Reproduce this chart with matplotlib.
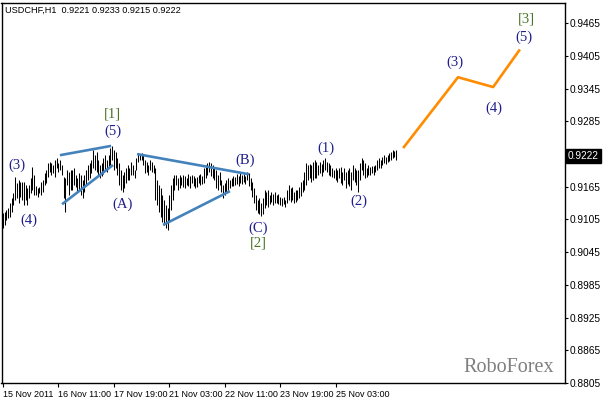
import matplotlib
matplotlib.use("Agg")
import matplotlib.pyplot as plt
import matplotlib.transforms as mtransforms
import numpy as np

# ---------------- data ----------------
symbol_title = "USDCHF,H1  0.9221 0.9233 0.9215 0.9222"
last_price = 0.9222

highs = [
    0.9117, 0.9119, 0.9122, 0.9126, 0.9135, 0.9144, 0.9153, 0.9183, 0.9172, 0.9177,
    0.9174, 0.9174, 0.9174, 0.9168, 0.9163, 0.9168, 0.9181, 0.9201, 0.9186, 0.9166,
    0.9163, 0.9164, 0.9174, 0.9177, 0.9190, 0.9196, 0.9208, 0.9210, 0.9208, 0.9205,
    0.9214, 0.9218, 0.9208, 0.9214, 0.9205, 0.9183, 0.9181, 0.9196, 0.9192, 0.9196,
    0.9196, 0.9199, 0.9186, 0.9181, 0.9190, 0.9186, 0.9177, 0.9186, 0.9196, 0.9205,
    0.9208, 0.9214, 0.9232, 0.9223, 0.9229, 0.9214, 0.9205, 0.9208, 0.9218, 0.9223,
    0.9214, 0.9223, 0.9236, 0.9240, 0.9232, 0.9229, 0.9218, 0.9208, 0.9196, 0.9186,
    0.9192, 0.9199, 0.9205, 0.9199, 0.9210, 0.9205, 0.9196, 0.9218, 0.9227, 0.9225,
    0.9227, 0.9223, 0.9214, 0.9210, 0.9205, 0.9214, 0.9210, 0.9205, 0.9199, 0.9177,
    0.9168, 0.9163, 0.9150, 0.9141, 0.9131, 0.9126, 0.9150, 0.9168, 0.9181, 0.9186,
    0.9186, 0.9181, 0.9186, 0.9183, 0.9186, 0.9185, 0.9181, 0.9188, 0.9185, 0.9186,
    0.9185, 0.9181, 0.9183, 0.9186, 0.9188, 0.9185, 0.9199, 0.9205, 0.9208, 0.9210,
    0.9208, 0.9205, 0.9199, 0.9196, 0.9186, 0.9192, 0.9177, 0.9168, 0.9172, 0.9177,
    0.9181, 0.9177, 0.9181, 0.9185, 0.9183, 0.9188, 0.9185, 0.9190, 0.9186, 0.9188,
    0.9185, 0.9192, 0.9190, 0.9181, 0.9174, 0.9163, 0.9150, 0.9141, 0.9144, 0.9135,
    0.9144, 0.9159, 0.9155, 0.9159, 0.9150, 0.9155, 0.9152, 0.9155, 0.9150, 0.9152,
    0.9146, 0.9144, 0.9146, 0.9141, 0.9159, 0.9168, 0.9163, 0.9164, 0.9155, 0.9159,
    0.9159, 0.9164, 0.9174, 0.9177, 0.9192, 0.9208, 0.9205, 0.9207, 0.9205, 0.9210,
    0.9214, 0.9210, 0.9205, 0.9210, 0.9207, 0.9214, 0.9218, 0.9210, 0.9208, 0.9205,
    0.9199, 0.9196, 0.9199, 0.9196, 0.9199, 0.9201, 0.9192, 0.9199, 0.9192, 0.9196,
    0.9199, 0.9192, 0.9205, 0.9199, 0.9196, 0.9196, 0.9208, 0.9218, 0.9214, 0.9208,
    0.9199, 0.9205, 0.9201, 0.9203, 0.9203, 0.9205, 0.9214, 0.9218, 0.9214, 0.9219,
    0.9223, 0.9219, 0.9223, 0.9227, 0.9229, 0.9232, 0.9231, 0.9233,
]
lows = [
    0.9089, 0.9095, 0.9104, 0.9108, 0.9109, 0.9119, 0.9131, 0.9141, 0.9144, 0.9135,
    0.9146, 0.9141, 0.9131, 0.9141, 0.9131, 0.9144, 0.9153, 0.9159, 0.9150, 0.9150,
    0.9146, 0.9153, 0.9150, 0.9155, 0.9168, 0.9172, 0.9183, 0.9192, 0.9186, 0.9190,
    0.9183, 0.9199, 0.9192, 0.9196, 0.9186, 0.9144, 0.9119, 0.9168, 0.9150, 0.9159,
    0.9159, 0.9168, 0.9164, 0.9155, 0.9159, 0.9150, 0.9144, 0.9155, 0.9168, 0.9177,
    0.9181, 0.9190, 0.9199, 0.9196, 0.9192, 0.9186, 0.9181, 0.9185, 0.9188, 0.9196,
    0.9192, 0.9199, 0.9205, 0.9214, 0.9196, 0.9199, 0.9186, 0.9168, 0.9159, 0.9155,
    0.9163, 0.9172, 0.9177, 0.9177, 0.9186, 0.9186, 0.9181, 0.9196, 0.9210, 0.9214,
    0.9214, 0.9205, 0.9190, 0.9192, 0.9186, 0.9196, 0.9192, 0.9190, 0.9141, 0.9131,
    0.9119, 0.9109, 0.9100, 0.9095, 0.9089, 0.9086, 0.9100, 0.9122, 0.9141, 0.9159,
    0.9168, 0.9159, 0.9163, 0.9168, 0.9164, 0.9163, 0.9168, 0.9166, 0.9163, 0.9172,
    0.9166, 0.9163, 0.9164, 0.9172, 0.9168, 0.9170, 0.9172, 0.9181, 0.9186, 0.9192,
    0.9185, 0.9181, 0.9177, 0.9163, 0.9159, 0.9168, 0.9155, 0.9144, 0.9150, 0.9155,
    0.9159, 0.9163, 0.9166, 0.9166, 0.9168, 0.9170, 0.9166, 0.9172, 0.9170, 0.9174,
    0.9170, 0.9177, 0.9166, 0.9159, 0.9146, 0.9135, 0.9122, 0.9117, 0.9115, 0.9111,
    0.9115, 0.9126, 0.9131, 0.9128, 0.9133, 0.9137, 0.9131, 0.9135, 0.9135, 0.9133,
    0.9131, 0.9130, 0.9133, 0.9128, 0.9135, 0.9141, 0.9137, 0.9141, 0.9135, 0.9137,
    0.9141, 0.9144, 0.9148, 0.9155, 0.9159, 0.9168, 0.9177, 0.9181, 0.9174, 0.9177,
    0.9181, 0.9181, 0.9186, 0.9190, 0.9185, 0.9192, 0.9196, 0.9192, 0.9186, 0.9185,
    0.9183, 0.9181, 0.9177, 0.9174, 0.9181, 0.9172, 0.9168, 0.9177, 0.9163, 0.9170,
    0.9166, 0.9159, 0.9177, 0.9174, 0.9168, 0.9155, 0.9177, 0.9196, 0.9186, 0.9181,
    0.9183, 0.9186, 0.9186, 0.9190, 0.9186, 0.9192, 0.9196, 0.9199, 0.9199, 0.9205,
    0.9208, 0.9207, 0.9210, 0.9212, 0.9214, 0.9218, 0.9219, 0.9215,
]

# forecast path (bar index, price)
proj_x = [231.5, 262.7, 283.0, 298.0]
proj_y = [0.9238, 0.9366, 0.9348, 0.9415]

# triangle trend lines: (x0, y0, x1, y1) in bar index / price
tri_lines = [
    (32.9, 0.9223, 62.4, 0.9240),
    (34.1, 0.9133, 63.5, 0.9205),
    (77.4, 0.9225, 142.0, 0.9188),
    (92.4, 0.9095, 131.0, 0.9157),
]

# wave labels
wave_text = ["(3)", "(4)", "(5)", "(A)", "(B)", "(C)", "(1)", "(2)", "(3)", "(4)", "(5)"]
wave_x = [8.1, 15.0, 63.5, 69.3, 139.7, 147.2, 186.5, 205.5, 261.0, 283.5, 300.8]
wave_y = [0.9205, 0.9104, 0.9267, 0.9133, 0.9214, 0.9089, 0.9236, 0.9139, 0.9394, 0.9309, 0.9439]

major_text = ["[1]", "[2]", "[3]"]
major_x = [63.0, 147.2, 302.0]
major_y = [0.9298, 0.9062, 0.9472]

ytick_vals = [0.8805, 0.8865, 0.8925, 0.8985, 0.9045, 0.9105, 0.9165,
              0.9285, 0.9345, 0.9405, 0.9465]
xtick_pos = [0, 32, 64, 96, 128, 160, 192]
xtick_labels = ["15 Nov 2011", "16 Nov 11:00", "17 Nov 19:00", "21 Nov 03:00",
                "22 Nov 11:00", "23 Nov 19:00", "25 Nov 03:00"]

# ---------------- figure ----------------
W, H = 603, 399
fig = plt.figure(figsize=(W / 100, H / 100), dpi=100)
fig.patch.set_facecolor("white")
left, right, top, bottom = 1.5, 564.5, 3.0, 383.0
ax = fig.add_axes([left / W, (H - bottom) / H, (right - left) / W, (bottom - top) / H])

px_per_bar = 1.732
x0_pix = 3.0
ax.set_xlim((left - x0_pix) / px_per_bar, (right - x0_pix) / px_per_bar)
ppp = 0.066 / 360.0  # price per pixel
ax.set_ylim(0.9465 - (bottom - 23.3) * ppp, 0.9465 + (23.3 - top) * ppp)

idx = np.arange(len(highs))
ax.vlines(idx, lows, highs, color="black", lw=0.75)

for (xa, ya, xb, yb) in tri_lines:
    ax.plot([xa, xb], [ya, yb], color="#4482bc", lw=1.9, solid_capstyle="butt")

ax.plot(proj_x, proj_y, color="#ff8c00", lw=1.9)

lab_font = dict(family=["Liberation Serif", "DejaVu Serif"], fontsize=10.5)
for t, x, y in zip(wave_text, wave_x, wave_y):
    ax.text(x, y, t, color="#1e1e8c", ha="center", va="center", **lab_font)
for t, x, y in zip(major_text, major_x, major_y):
    ax.text(x, y, t, color="#4a7524", ha="center", va="center", **lab_font)

# title
ax.text(0.006, 0.982, symbol_title, transform=ax.transAxes,
        fontsize=6.6, family=["Liberation Sans", "DejaVu Sans"], color="black",
        ha="left", va="center")

# watermark
ax.text(0.901, (bottom - 368) / (bottom - top), "RoboForex", transform=ax.transAxes,
        fontsize=14.5, family=["Liberation Serif", "DejaVu Serif"], color="#7f7f7f",
        ha="center", va="center")

# axes styling
for s in ax.spines.values():
    s.set_color("black")
    s.set_linewidth(1.0)
ax.yaxis.tick_right()
ax.set_yticks(ytick_vals)
ax.set_yticklabels([f"{v:.4f}" for v in ytick_vals])
ax.tick_params(axis="y", direction="out", length=2.5, width=0.8, pad=1.5,
               labelsize=7.3, colors="black")
ax.set_xticks(xtick_pos)
ax.set_xticklabels(xtick_labels)
ax.tick_params(axis="x", direction="out", length=3, width=0.8, pad=2,
               labelsize=6.5, colors="black")
for lbl in ax.get_xticklabels():
    lbl.set_horizontalalignment("left")
    lbl.set_family(["Liberation Sans", "DejaVu Sans"])
for lbl in ax.get_yticklabels():
    lbl.set_family(["Liberation Sans", "DejaVu Sans"])

# current price box
trans = mtransforms.blended_transform_factory(ax.transAxes, ax.transData)
ax.text(1.0 + 3.5 / (right - left), last_price, f"{last_price:.4f}", transform=trans,
        fontsize=7.3, family=["Liberation Sans", "DejaVu Sans"], color="white",
        ha="left", va="center",
        bbox=dict(boxstyle="square,pad=0.2", facecolor="black", edgecolor="black"))

fig.savefig("out.png", dpi=100, facecolor="white")
